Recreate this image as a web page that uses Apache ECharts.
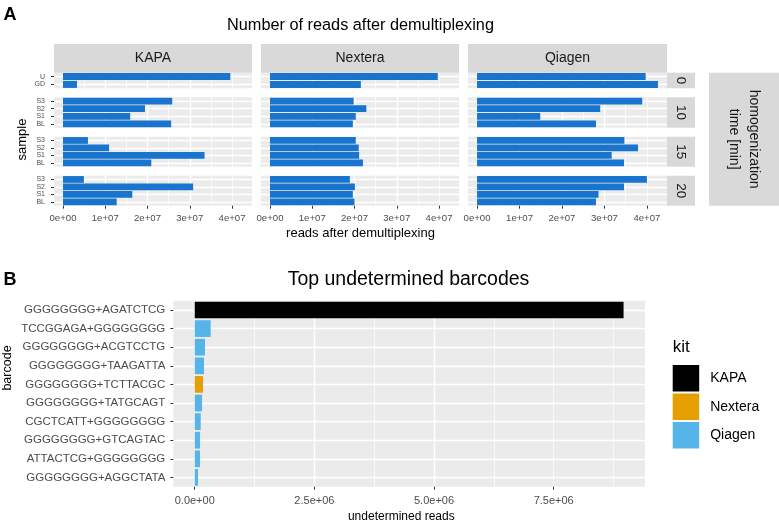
<!DOCTYPE html>
<html><head><meta charset="utf-8">
<script src="https://cdn.jsdelivr.net/npm/echarts@6/dist/echarts.min.js"></script>
<style>html,body{margin:0;padding:0;background:#fff}#c{width:779px;height:525px}</style>
</head><body><div id="c"></div>
<script>
// ---------- Panel A data ----------
const kits = ['KAPA', 'Nextera', 'Qiagen'];
const times = ['0', '10', '15', '20'];
const samplesTime0 = ['GD', 'U'];            // bottom -> top
const samplesOther = ['BL', 'S1', 'S2', 'S3']; // bottom -> top
const KAPA_t0 = [0.33e7, 3.96e7];
const KAPA_t10 = [2.56e7, 1.59e7, 1.94e7, 2.585e7];
const KAPA_t15 = [2.09e7, 3.35e7, 1.09e7, 0.59e7];
const KAPA_t20 = [1.27e7, 1.64e7, 3.08e7, 0.495e7];
const Nextera_t0 = [2.15e7, 3.97e7];
const Nextera_t10 = [1.96e7, 2.03e7, 2.28e7, 1.98e7];
const Nextera_t15 = [2.20e7, 2.11e7, 2.10e7, 2.03e7];
const Nextera_t20 = [2.00e7, 1.96e7, 2.01e7, 1.89e7];
const Qiagen_t0 = [4.26e7, 3.97e7];
const Qiagen_t10 = [2.80e7, 1.49e7, 2.90e7, 3.89e7];
const Qiagen_t15 = [3.46e7, 3.17e7, 3.79e7, 3.47e7];
const Qiagen_t20 = [2.80e7, 2.86e7, 3.46e7, 4.00e7];
const readTicksA = [0, 1e7, 2e7, 3e7, 4e7];

// ---------- Panel B data ----------
const barcodes = ['GGGGGGGG+AGATCTCG', 'TCCGGAGA+GGGGGGGG', 'GGGGGGGG+ACGTCCTG', 'GGGGGGGG+TAAGATTA',
  'GGGGGGGG+TCTTACGC', 'GGGGGGGG+TATGCAGT', 'CGCTCATT+GGGGGGGG', 'GGGGGGGG+GTCAGTAC',
  'ATTACTCG+GGGGGGGG', 'GGGGGGGG+AGGCTATA'];
const barcodeKit = ['KAPA', 'Qiagen', 'Qiagen', 'Qiagen', 'Nextera', 'Qiagen', 'Qiagen', 'Qiagen', 'Qiagen', 'Qiagen'];
const undeterminedReads = [8.96e6, 0.333e6, 0.215e6, 0.194e6, 0.174e6, 0.153e6, 0.125e6, 0.111e6, 0.111e6, 0.069e6];
const readTicksB = [0, 2.5e6, 5e6, 7.5e6];
const kitColors = ['#000000', '#E69F00', '#56B4E9'];

// ---------- build ----------
const panelValues = {
  KAPA: [KAPA_t0, KAPA_t10, KAPA_t15, KAPA_t20],
  Nextera: [Nextera_t0, Nextera_t10, Nextera_t15, Nextera_t20],
  Qiagen: [Qiagen_t0, Qiagen_t10, Qiagen_t15, Qiagen_t20]
};
const FONT = "'Liberation Sans', Arial, Helvetica, sans-serif";
const AX = '#4D4D4D';
const BAR_A = '#1874CD';

const allA = [].concat(...kits.map(k => [].concat(...panelValues[k])));
const maxA = Math.max(...allA);
const xMinA = -0.05 * maxA, xMaxA = 1.05 * maxA;
const maxB = Math.max(...undeterminedReads);
const xMinB = -0.05 * maxB, xMaxB = 1.05 * maxB;

function pad2(e) { return (e < 0 ? '-' : '+') + String(Math.abs(e)).padStart(2, '0'); }
function fmtA(v) {
  if (v === 0) return '0e+00';
  const e = Math.floor(Math.log10(Math.abs(v)) + 1e-9);
  return Math.round(v / Math.pow(10, e)) + 'e' + pad2(e);
}
function fmtB(v) {
  if (v === 0) return '0.0e+00';
  const e = Math.floor(Math.log10(Math.abs(v)) + 1e-9);
  return (v / Math.pow(10, e)).toFixed(1) + 'e' + pad2(e);
}

const colX = [[54, 252], [261, 459], [468, 667]];
const rowY = [[72.7, 88.3], [97.3, 127.7], [136.7, 166.7], [175.7, 205.7]];

const grids = [], xAxes = [], yAxes = [], series = [], graphics = [];
const white = (w) => ({ show: true, showMinLine: false, showMaxLine: false, lineStyle: { color: '#FFFFFF', width: w } });
const hidden = { axisLine: { show: false, onZero: false }, axisTick: { show: false }, axisLabel: { show: false } };
const noLine = { show: false, onZero: false };

for (let r = 0; r < 4; r++) {
  for (let c = 0; c < 3; c++) {
    const g = r * 3 + c;
    const cats = r === 0 ? samplesTime0 : samplesOther;
    grids.push({ left: colX[c][0], top: rowY[r][0], width: colX[c][1] - colX[c][0], height: rowY[r][1] - rowY[r][0],
      show: true, backgroundColor: '#EBEBEB', borderWidth: 0, containLabel: false, outerBoundsMode: 'none' });
    xAxes.push({ type: 'value', gridIndex: g, position: 'bottom', min: xMinA, max: xMaxA, minInterval: 1e7, maxInterval: 1e7,
      axisLine: noLine,
      axisTick: { show: r === 3, length: 3, lineStyle: { color: '#333333', width: 1 }, customValues: readTicksA },
      axisLabel: { show: r === 3, customValues: readTicksA, formatter: fmtA, fontSize: 9.6, color: AX, margin: 8, fontFamily: FONT },
      splitLine: white(1.4) });
    xAxes.push(Object.assign({ type: 'value', gridIndex: g, position: 'top', min: xMinA, max: xMaxA, minInterval: 0.5e7, maxInterval: 0.5e7,
      splitLine: white(0.7) }, hidden));
    yAxes.push({ type: 'category', gridIndex: g, position: 'left', data: cats,
      axisLine: noLine,
      axisTick: { show: c === 0, alignWithLabel: true, interval: 0, length: 3, lineStyle: { color: '#333333', width: 1 } },
      axisLabel: { show: c === 0, interval: 0, fontSize: 7, color: AX, margin: 9, fontFamily: FONT },
      splitLine: { show: false } });
    yAxes.push(Object.assign({ type: 'value', gridIndex: g, position: 'right', min: -0.5, max: cats.length - 0.5, minInterval: 1, maxInterval: 1,
      splitLine: white(1.4) }, hidden));
    series.push({ type: 'bar', name: kits[c] + ' ' + times[r], xAxisIndex: 2 * g, yAxisIndex: 2 * g,
      data: panelValues[kits[c]][r], barWidth: '90%', itemStyle: { color: BAR_A }, silent: true, animation: false });
  }
}

// Panel B
const gB = 12;
const gridB = { left: 173.3, top: 300.7, width: 645 - 173.3, height: 486.7 - 300.7 };
grids.push(Object.assign({ show: true, backgroundColor: '#EBEBEB', borderWidth: 0, containLabel: false, outerBoundsMode: 'none' }, gridB));
xAxes.push({ type: 'value', gridIndex: gB, position: 'bottom', min: xMinB, max: xMaxB, minInterval: 2.5e6, maxInterval: 2.5e6,
  axisLine: noLine,
  axisTick: { show: true, length: 3, lineStyle: { color: '#333333', width: 1 }, customValues: readTicksB },
  axisLabel: { customValues: readTicksB, formatter: fmtB, fontSize: 11, color: AX, margin: 9, fontFamily: FONT },
  splitLine: white(1.4) });
xAxes.push(Object.assign({ type: 'value', gridIndex: gB, position: 'top', min: xMinB, max: xMaxB, minInterval: 1.25e6, maxInterval: 1.25e6,
  splitLine: white(0.7) }, hidden));
yAxes.push({ type: 'category', gridIndex: gB, position: 'left', data: barcodes, inverse: true,
  axisLine: noLine,
  axisTick: { show: true, alignWithLabel: true, interval: 0, length: 3, lineStyle: { color: '#333333', width: 1 } },
  axisLabel: { interval: 0, fontSize: 11.5, color: AX, margin: 8, fontFamily: FONT },
  splitLine: { show: false } });
yAxes.push(Object.assign({ type: 'value', gridIndex: gB, position: 'right', min: -0.5, max: barcodes.length - 0.5, minInterval: 1, maxInterval: 1,
  inverse: true, splitLine: white(1.4) }, hidden));
kits.forEach((k, i) => {
  series.push({ type: 'bar', name: k, xAxisIndex: 2 * gB, yAxisIndex: 2 * gB,
    data: undeterminedReads.map((v, j) => barcodeKit[j] === k ? v : '-'),
    barWidth: '90%', barGap: '-100%', itemStyle: { color: kitColors[i] }, silent: true, animation: false });
});

// ---------- strips & texts ----------
function txt(x, y, s, size, opt) {
  return Object.assign({ type: 'text', x: x, y: y, silent: true,
    style: Object.assign({ text: s, fontSize: size, fontFamily: FONT, fill: '#000', align: 'center', verticalAlign: 'middle' }, (opt && opt.style) || {}) },
    opt ? { rotation: opt.rotation || 0 } : {});
}
const STRIP = '#D9D9D9', STRIPTXT = '#1A1A1A';
kits.forEach((k, c) => {
  graphics.push({ type: 'rect', silent: true, shape: { x: colX[c][0], y: 44, width: colX[c][1] - colX[c][0], height: 72.7 - 44 }, style: { fill: STRIP } });
  graphics.push(txt((colX[c][0] + colX[c][1]) / 2, 58.5, k, 14, { style: { fill: STRIPTXT } }));
});
times.forEach((t, r) => {
  graphics.push({ type: 'rect', silent: true, shape: { x: 667, y: rowY[r][0], width: 28, height: rowY[r][1] - rowY[r][0] }, style: { fill: STRIP } });
  graphics.push(txt(681, (rowY[r][0] + rowY[r][1]) / 2, t, 13.5, { rotation: -Math.PI / 2, style: { fill: STRIPTXT } }));
});
graphics.push({ type: 'rect', silent: true, shape: { x: 709, y: 72.7, width: 70, height: 205.7 - 72.7 }, style: { fill: STRIP } });
graphics.push(txt(743.5, 139.2, 'homogenization\ntime [min]', 14, { rotation: -Math.PI / 2, style: { fill: STRIPTXT, lineHeight: 20 } }));

graphics.push(txt(10, 15, 'A', 18, { style: { fontWeight: 'bold' } }));
graphics.push(txt(360.5, 26, 'Number of reads after demultiplexing', 16.3));
graphics.push(txt(22, 139.5, 'sample', 13, { rotation: Math.PI / 2 }));
graphics.push(txt(360.5, 233, 'reads after demultiplexing', 13));

graphics.push(txt(10, 280, 'B', 18, { style: { fontWeight: 'bold' } }));
graphics.push(txt(408.5, 280, 'Top undetermined barcodes', 19.5));
graphics.push(txt(7.5, 368, 'barcode', 12.5, { rotation: Math.PI / 2 }));
graphics.push(txt(401.3, 517, 'undetermined reads', 12));
graphics.push(txt(672.7, 347, 'kit', 17, { style: { align: 'left' } }));

const chart = echarts.init(document.getElementById('c'), null, { renderer: 'canvas' });
chart.setOption({
  animation: false,
  backgroundColor: '#FFFFFF',
  grid: grids, xAxis: xAxes, yAxis: yAxes, series: series,
  legend: { data: kits, orient: 'vertical', left: 672.7, top: 365, itemWidth: 26.5, itemHeight: 26.5, itemGap: 2,
    icon: 'rect', selectedMode: false, padding: 0,
    textStyle: { fontSize: 14, color: '#000', fontFamily: FONT, padding: [0, 0, 0, 6] } },
  graphic: graphics
});
</script></body></html>
